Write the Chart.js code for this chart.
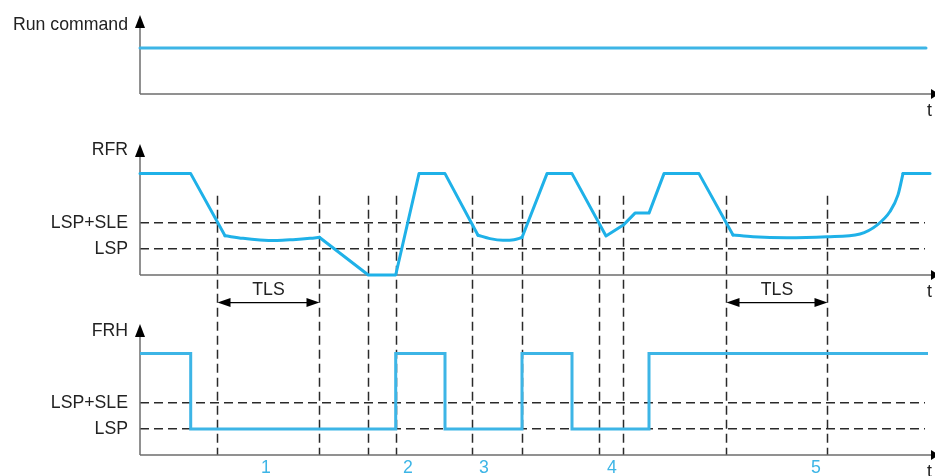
<!DOCTYPE html>
<html><head><meta charset="utf-8">
<script src="https://cdn.jsdelivr.net/npm/chart.js@4/dist/chart.umd.min.js"></script>
<style>html,body{margin:0;padding:0;background:#fff;}#wrap{width:935px;height:476px;position:relative;}</style>
</head><body><div id="wrap"><canvas id="c" width="935" height="476"></canvas></div>
<script>
// ---- data (time in arbitrary units, levels: LSP = 1, LSP+SLE = 2) ----
const eventTimes = [7.67, 17.93, 22.83, 25.57, 33.17, 38.2, 45.9, 48.33, 58.57, 68.73];
const levelNames = ['LSP', 'LSP+SLE'];
const levelValues = [1, 2];
const panelNames = ['Run command', 'RFR', 'FRH'];
const runTimes = [0, 78.6];
const runValues = [1.77, 1.77];
const rfrTimes = [0, 5.07, 8.5, 10.3, 12.0, 13.7, 15.3, 17.0, 17.93, 22.83, 25.57, 27.9, 30.5,
  33.8, 35.0, 36.3, 37.4, 38.2, 40.7, 43.2, 46.6, 48.33, 49.5, 50.9, 52.4, 55.9,
  59.3, 61.3, 64.7, 68.7, 72.0, 73.7, 75.0, 75.8, 76.3, 79.0];
const rfrValues = [3.9, 3.9, 1.51, 1.41, 1.35, 1.33, 1.36, 1.41, 1.45, 0, 0, 3.9, 3.9,
  1.53, 1.40, 1.34, 1.36, 1.44, 3.9, 3.9, 1.50, 1.92, 2.38, 2.38, 3.9, 3.9,
  1.54, 1.47, 1.43, 1.47, 1.58, 1.92, 2.44, 3.08, 3.9, 3.9];
const rfrCurves = [[2, 8], [13, 17], [26, 34]]; // index ranges of rounded parts
const frhTimes = [0, 5.07, 25.57, 30.5, 38.2, 43.2, 50.9, 78.8];
const frhValues = [3.9, 1, 3.9, 1, 3.9, 1, 3.9, 3.9];
const intervalLabels = ['1', '2', '3', '4', '5'];
const intervalTimes = [12.6, 26.8, 34.4, 47.2, 67.6];
const tlsSpans = [[7.67, 17.93], [58.57, 68.73]];

// ---- layout constants ----
const panelBase = [13.885, 6.923, 0];   // baseline of each panel on the shared y scale
const panelTop = [3.04, 5.04, 5.04];    // arrow tip height above baseline
const panelLabelAt = [2.65, 4.8, 4.78];
const BLUE = '#1fb1e8', BLUE2 = '#3db5e6', DARK = '#222', AXIS = '#6d6d6d';
const FONT = '"Liberation Sans", Arial, sans-serif';
const FS = 17.7;
Chart.defaults.font.family = FONT;

function pts(ts, vs, base, from, to) {
  const out = [];
  for (let i = from; i <= to; i++) out.push({x: ts[i], y: base + vs[i]});
  return out;
}
const common = {borderWidth: 3, pointRadius: 0, fill: false, clip: false,
  borderCapStyle: 'round', borderJoinStyle: 'round'};
const datasets = [];
datasets.push(Object.assign({data: pts(runTimes, runValues, panelBase[0], 0, runTimes.length - 1),
  borderColor: BLUE2, tension: 0}, common));
// RFR: straight pieces + rounded pieces
let start = 0;
rfrCurves.forEach(([a, b]) => {
  datasets.push(Object.assign({data: pts(rfrTimes, rfrValues, panelBase[1], start, a), borderColor: BLUE, tension: 0}, common));
  datasets.push(Object.assign({data: pts(rfrTimes, rfrValues, panelBase[1], a, b), borderColor: BLUE, cubicInterpolationMode: 'monotone'}, common));
  start = b;
});
datasets.push(Object.assign({data: pts(rfrTimes, rfrValues, panelBase[1], start, rfrTimes.length - 1), borderColor: BLUE, tension: 0}, common));
datasets.push(Object.assign({data: pts(frhTimes, frhValues, panelBase[2], 0, frhTimes.length - 1),
  borderColor: BLUE2, stepped: 'before', tension: 0}, common, {borderJoinStyle: 'miter', borderCapStyle: 'butt'}));

const yTicks = [];
panelNames.forEach((n, p) => {
  yTicks.push({value: panelBase[p] + panelLabelAt[p], label: n, dashed: false});
  if (p > 0) levelValues.forEach((v, i) => yTicks.push({value: panelBase[p] + v, label: levelNames[i], dashed: true}));
});
yTicks.sort((a, b) => a.value - b.value);

const deco = {
  id: 'deco',
  beforeDatasetsDraw(chart) {
    const ctx = chart.ctx, xs = chart.scales.x, ys = chart.scales.y;
    const px = v => xs.getPixelForValue(v), py = v => ys.getPixelForValue(v);
    ctx.save();
    // vertical event lines
    ctx.strokeStyle = '#2a2a2a'; ctx.lineWidth = 1.5; ctx.setLineDash([9, 5]);
    eventTimes.forEach(t => {
      ctx.beginPath(); ctx.moveTo(Math.round(px(t)) + 0.5, py(panelBase[1] + 3.05));
      ctx.lineTo(Math.round(px(t)) + 0.5, py(panelBase[2])); ctx.stroke();
    });
    ctx.setLineDash([]);
    // axes
    panelBase.forEach((b, p) => {
      const x0 = px(0), yb = py(b), ytip = py(b + panelTop[p]);
      ctx.strokeStyle = AXIS; ctx.lineWidth = 1.5;
      ctx.beginPath(); ctx.moveTo(x0, yb); ctx.lineTo(px(79.2), yb); ctx.stroke();
      ctx.beginPath(); ctx.moveTo(x0, yb); ctx.lineTo(x0, ytip + 12); ctx.stroke();
      ctx.fillStyle = '#000';
      ctx.beginPath(); ctx.moveTo(x0, ytip); ctx.lineTo(x0 - 5, ytip + 13); ctx.lineTo(x0 + 5, ytip + 13); ctx.closePath(); ctx.fill();
      const xa = px(79.1);
      ctx.beginPath(); ctx.moveTo(xa + 8, yb); ctx.lineTo(xa, yb - 5); ctx.lineTo(xa, yb + 5); ctx.closePath(); ctx.fill();
      ctx.fillStyle = DARK; ctx.font = FS + 'px ' + FONT; ctx.textAlign = 'center'; ctx.textBaseline = 'middle';
      ctx.fillText('t', px(78.95), py(b - 0.64));
    });
    // TLS arrows
    tlsSpans.forEach(([a, b]) => {
      const xa = Math.round(px(a)) + 0.5, xb = Math.round(px(b)) + 0.5, y = py(panelBase[1] - 1.06);
      ctx.strokeStyle = '#000'; ctx.lineWidth = 1.3;
      ctx.beginPath(); ctx.moveTo(xa + 10, y); ctx.lineTo(xb - 10, y); ctx.stroke();
      ctx.fillStyle = '#000';
      ctx.beginPath(); ctx.moveTo(xa, y); ctx.lineTo(xa + 13, y - 4.5); ctx.lineTo(xa + 13, y + 4.5); ctx.closePath(); ctx.fill();
      ctx.beginPath(); ctx.moveTo(xb, y); ctx.lineTo(xb - 13, y - 4.5); ctx.lineTo(xb - 13, y + 4.5); ctx.closePath(); ctx.fill();
      ctx.fillStyle = DARK; ctx.font = FS + 'px ' + FONT; ctx.textAlign = 'center'; ctx.textBaseline = 'middle';
      ctx.fillText('TLS', (xa + xb) / 2, py(panelBase[1] - 0.58));
    });
    ctx.restore();
  }
};

new Chart(document.getElementById('c'), {
  type: 'line',
  data: {datasets},
  plugins: [deco],
  options: {
    responsive: false, animation: false, devicePixelRatio: 1, events: [],
    layout: {padding: {top: 0, left: 0, right: 10, bottom: 0}},
    plugins: {legend: {display: false}, tooltip: {enabled: false}},
    scales: {
      x: {
        type: 'linear', min: 0, max: 78.5, position: 'bottom',
        grid: {display: false, drawTicks: false}, border: {display: false},
        afterBuildTicks: s => { s.ticks = intervalTimes.map(v => ({value: v})); },
        ticks: {color: BLUE2, font: {size: FS}, padding: 2, autoSkip: false, maxRotation: 0,
          callback: (v, i) => intervalLabels[i]},
        afterFit: s => { s.height = 21; s.paddingLeft = 0; s.paddingRight = 0; }
      },
      y: {
        type: 'linear', min: 0, max: 17.5, position: 'left',
        grid: {display: true, drawTicks: false, lineWidth: 1.5,
          color: c => (c.tick && c.tick.dashed) ? '#2a2a2a' : 'rgba(0,0,0,0)'},
        border: {display: false, dash: [9, 5]},
        afterBuildTicks: s => { s.ticks = yTicks.map(t => Object.assign({}, t)); },
        ticks: {color: DARK, font: {size: FS}, padding: 12, autoSkip: false,
          callback: (v, i, ticks) => ticks[i].label},
        afterFit: s => { s.width = 140; s.paddingTop = 0; s.paddingBottom = 0; }
      }
    }
  }
});
</script></body></html>
